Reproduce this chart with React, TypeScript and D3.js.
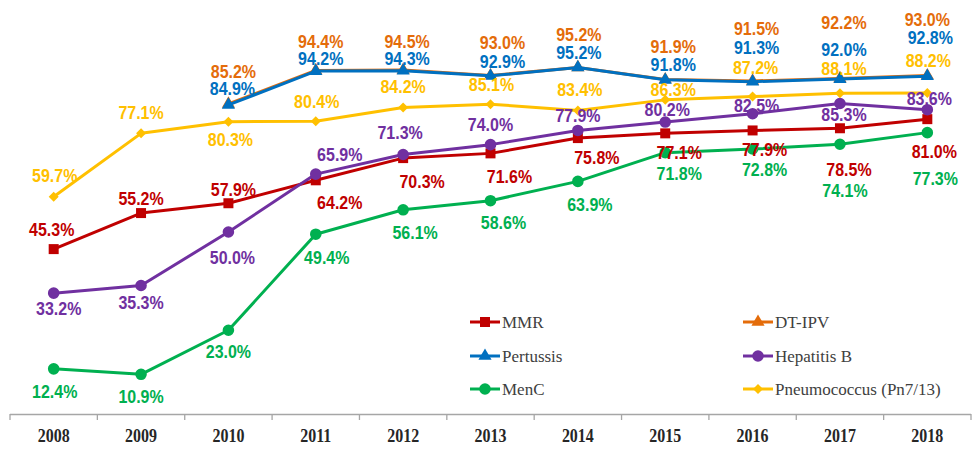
import React from "react";
import * as d3 from "d3";

const years = ["2008","2009","2010","2011","2012","2013","2014","2015","2016","2017","2018"];

const mmr = [45.3,55.2,57.9,64.2,70.3,71.6,75.8,77.1,77.9,78.5,81.0];
const dtipv = [null,null,85.2,94.4,94.5,93.0,95.2,91.9,91.5,92.2,93.0];
const pertussis = [null,null,84.9,94.2,94.3,92.9,95.2,91.8,91.3,92.0,92.8];
const hepB = [33.2,35.3,50.0,65.9,71.3,74.0,77.9,80.2,82.5,85.3,83.6];
const menC = [12.4,10.9,23.0,49.4,56.1,58.6,63.9,71.8,72.8,74.1,77.3];
const pneumo = [59.7,77.1,80.3,80.4,84.2,85.1,83.4,86.3,87.2,88.1,88.2];

const seriesNames = ["MMR","DT-IPV","Pertussis","Hepatitis B","MenC","Pneumococcus (Pn7/13)"];

// label placement (layout, not data): [dx, dy] relative to point
const labelOffsets: Record<string, [number, number][]> = {
  "MMR": [[-2,-19],[0,-14],[5,-13],[24,23],[19,24],[19,24],[19,20],[14,20],[12,20],[9,42],[7,33]],
  "DT-IPV": [[0,0],[0,0],[5,-32],[5,-28],[4,-28],[12,-32],[1,-32],[8,-32],[4,-52],[4,-55],[0,-55]],
  "Pertussis": [[0,0],[0,0],[4,-16],[5,-12],[4,-12],[12,-14],[1,-14],[8,-15],[4,-33],[4,-29],[3,-38]],
  "Hepatitis B": [[5,16],[0,18],[4,26],[24,-19],[-3,-21],[0,-19],[0,-14],[2,-12],[4,-8],[4,12],[2,-10]],
  "MenC": [[1,23],[0,23],[0,22],[11,24],[12,23],[13,23],[12,24],[14,22],[12,21],[5,47],[8,47]],
  "Pneumococcus (Pn7/13)": [[1,-20],[0,-20],[2,18],[1,-19],[0,-20],[1,-19],[2,-20],[8,-10],[3,-28],[4,-24],[1,-32]],
};

const colors: Record<string, string> = {
  "MMR": "#C00000",
  "DT-IPV": "#E46C0A",
  "Pertussis": "#0070C0",
  "Hepatitis B": "#7030A0",
  "MenC": "#00B050",
  "Pneumococcus (Pn7/13)": "#FFC000",
};

const shapes: Record<string, string> = {
  "MMR": "square",
  "DT-IPV": "triangle",
  "Pertussis": "triangle",
  "Hepatitis B": "circle",
  "MenC": "circle",
  "Pneumococcus (Pn7/13)": "diamond",
};

const values: Record<string, (number | null)[]> = {
  "MMR": mmr,
  "DT-IPV": dtipv,
  "Pertussis": pertussis,
  "Hepatitis B": hepB,
  "MenC": menC,
  "Pneumococcus (Pn7/13)": pneumo,
};

const W = 973, H = 449;

function markerPath(shape: string): { d: string; rot: number } {
  if (shape === "square") return { d: d3.symbol().type(d3.symbolSquare).size(100)() as string, rot: 0 };
  if (shape === "triangle") return { d: d3.symbol().type(d3.symbolTriangle).size(75)() as string, rot: 0 };
  if (shape === "circle") return { d: d3.symbol().type(d3.symbolCircle).size(105)() as string, rot: 0 };
  return { d: d3.symbol().type(d3.symbolSquare).size(50)() as string, rot: 45 };
}

export default function App() {
  const x = d3.scaleBand<string>().domain(years).range([10, 971]).padding(0);
  const y = d3.scaleLinear().domain([0, 100]).range([414, 50]);
  const cx = (yr: string) => (x(yr) as number) + x.bandwidth() / 2;

  const line = d3.line<[string, number | null]>()
    .defined((d) => d[1] != null)
    .x((d) => cx(d[0]))
    .y((d) => y(d[1] as number));

  const legendPos: Record<string, [number, number]> = {
    "MMR": [470, 322],
    "Pertussis": [470, 356],
    "MenC": [470, 389],
    "DT-IPV": [743, 322],
    "Hepatitis B": [743, 356],
    "Pneumococcus (Pn7/13)": [743, 389],
  };

  const boundaries = years.map((yr) => x(yr) as number).concat([x.range()[1]]);

  return (
    <svg width={W} height={H} style={{ position: "absolute", left: 0, top: 0, background: "#fff" }}>
      {/* axis */}
      <line x1={10} x2={971} y1={414.5} y2={414.5} stroke="#A6A6A6" strokeWidth={1.3} />
      {boundaries.map((b, i) => (
        <line key={i} x1={b} x2={b} y1={414} y2={420} stroke="#A6A6A6" strokeWidth={1.3} />
      ))}
      {years.map((yr) => (
        <text key={yr} transform={`translate(${cx(yr)},435) scale(1,1.22)`} textAnchor="middle" dominantBaseline="central"
          fontFamily="'Liberation Serif', 'Times New Roman', serif" fontWeight="bold" fontSize={16} fill="#262626">
          {yr}
        </text>
      ))}

      {/* lines and markers */}
      {seriesNames.map((s) => {
        const data = years.map((yr, i) => [yr, values[s][i]] as [string, number | null]);
        const m = markerPath(shapes[s]);
        return (
          <g key={s}>
            <path d={line(data) as string} fill="none" stroke={colors[s]} strokeWidth={3} strokeLinejoin="round" />
            {data.filter((d) => d[1] != null).map((d) => (
              <path key={d[0]} d={m.d} fill={colors[s]}
                transform={`translate(${cx(d[0])},${y(d[1] as number)}) rotate(${m.rot})`} />
            ))}
          </g>
        );
      })}

      {/* labels */}
      {seriesNames.map((s) => (
        <g key={s + "-lbl"}>
          {years.map((yr, i) => {
            const v = values[s][i];
            if (v == null) return null;
            const [dx, dy] = labelOffsets[s][i];
            return (
              <text key={yr} transform={`translate(${cx(yr) + dx},${y(v) + dy}) scale(1,1.12)`} textAnchor="middle" dominantBaseline="central"
                fontFamily="'Liberation Sans', Arial, sans-serif" fontWeight="bold" fontSize={16} fill={colors[s]}>
                {v.toFixed(1)}%
              </text>
            );
          })}
        </g>
      ))}

      {/* legend */}
      {seriesNames.map((s) => {
        const [lx, ly] = legendPos[s];
        const m = markerPath(shapes[s]);
        return (
          <g key={s + "-leg"}>
            <line x1={lx} x2={lx + 30} y1={ly} y2={ly} stroke={colors[s]} strokeWidth={3} />
            <path d={m.d} fill={colors[s]} transform={`translate(${lx + 15},${ly}) rotate(${m.rot})`} />
            <text x={lx + 32} y={ly} dominantBaseline="central"
              fontFamily="'Liberation Serif', 'Times New Roman', serif" fontSize={17} fill="#404040">
              {s}
            </text>
          </g>
        );
      })}
    </svg>
  );
}
